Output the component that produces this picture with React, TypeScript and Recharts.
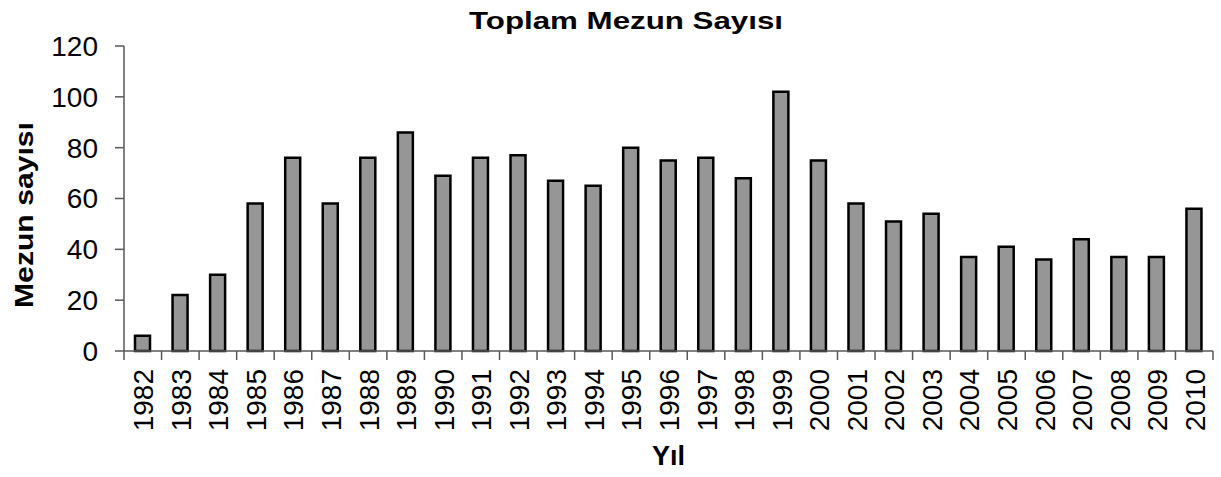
import React from 'react';
import { BarChart, Bar, XAxis, YAxis } from 'recharts';

const years = [
  '1982', '1983', '1984', '1985', '1986', '1987', '1988', '1989', '1990', '1991',
  '1992', '1993', '1994', '1995', '1996', '1997', '1998', '1999', '2000', '2001',
  '2002', '2003', '2004', '2005', '2006', '2007', '2008', '2009', '2010',
];
const graduates = [
  6, 22, 30, 58, 76, 58, 76, 86, 69, 76,
  77, 67, 65, 80, 75, 76, 68, 102, 75, 58,
  51, 54, 37, 41, 36, 44, 37, 37, 56,
];
const yTicks = [0, 20, 40, 60, 80, 100, 120];

const title = 'Toplam Mezun Sayısı';
const yLabel = 'Mezun sayısı';
const xLabel = 'Yıl';

const W = 1221;
const H = 477;
const LEFT = 124;
const RIGHT = 8;
const TOP = 46;
const X_AXIS_H = 126;
const FONT = '"Liberation Sans", Arial, sans-serif';
const AXIS_COLOR = '#595959';

const data = years.map((y, i) => ({ year: y, value: graduates[i] }));
const band = (W - LEFT - RIGHT) / years.length;

// x ticks sit on category boundaries, labels are rotated
const YearTick = (props: any) => {
  const { x, y, payload, index } = props;
  const last = index === years.length - 1;
  return (
    <g>
      <line x1={x - band / 2} y1={y} x2={x - band / 2} y2={y + 9} stroke={AXIS_COLOR} strokeWidth={1.5} />
      {last && (
        <line x1={x + band / 2} y1={y} x2={x + band / 2} y2={y + 9} stroke={AXIS_COLOR} strokeWidth={1.5} />
      )}
      <text
        x={0}
        y={0}
        transform={`translate(${x + 10.5}, ${y + 18}) rotate(-90)`}
        textAnchor="end"
        fontSize={28}
        fontFamily={FONT}
        fill="#000"
      >
        {payload.value}
      </text>
    </g>
  );
};

const App = () => {
  const plotBottom = H - X_AXIS_H;
  return (
    <div style={{ position: 'absolute', left: 0, top: 0, width: W, height: H, background: '#fff' }}>
      <BarChart
        width={W}
        height={H}
        data={data}
        margin={{ top: TOP, right: RIGHT, left: 0, bottom: 0 }}
        barSize={15}
      >
        <XAxis
          dataKey="year"
          height={X_AXIS_H}
          interval={0}
          tickLine={false}
          tickSize={0}
          tickMargin={0}
          axisLine={{ stroke: AXIS_COLOR, strokeWidth: 1.5 }}
          tick={<YearTick />}
        />
        <YAxis
          width={LEFT}
          domain={[0, 120]}
          ticks={yTicks}
          interval={0}
          tickSize={9}
          tickMargin={17}
          axisLine={{ stroke: AXIS_COLOR, strokeWidth: 1.5 }}
          tickLine={{ stroke: AXIS_COLOR, strokeWidth: 1.5 }}
          tick={{ fontSize: 28, fontFamily: FONT, fill: '#000' }}
        />
        <Bar dataKey="value" fill="#969696" stroke="#000" strokeWidth={2.5} isAnimationActive={false} />
        <text
          x={469}
          y={29}
          textLength={314}
          lengthAdjust="spacingAndGlyphs"
          fontSize={23}
          fontWeight="bold"
          fontFamily={FONT}
          fill="#000"
        >
          {title}
        </text>
        <text
          x={0}
          y={0}
          transform={`translate(33, 308) rotate(-90)`}
          textLength={186}
          lengthAdjust="spacingAndGlyphs"
          fontSize={26}
          fontWeight="bold"
          fontFamily={FONT}
          fill="#000"
        >
          {yLabel}
        </text>
        <text
          x={(LEFT + W - RIGHT) / 2}
          y={plotBottom + 114}
          textAnchor="middle"
          fontSize={27}
          fontWeight="bold"
          fontFamily={FONT}
          fill="#000"
        >
          {xLabel}
        </text>
      </BarChart>
    </div>
  );
};

export default App;
